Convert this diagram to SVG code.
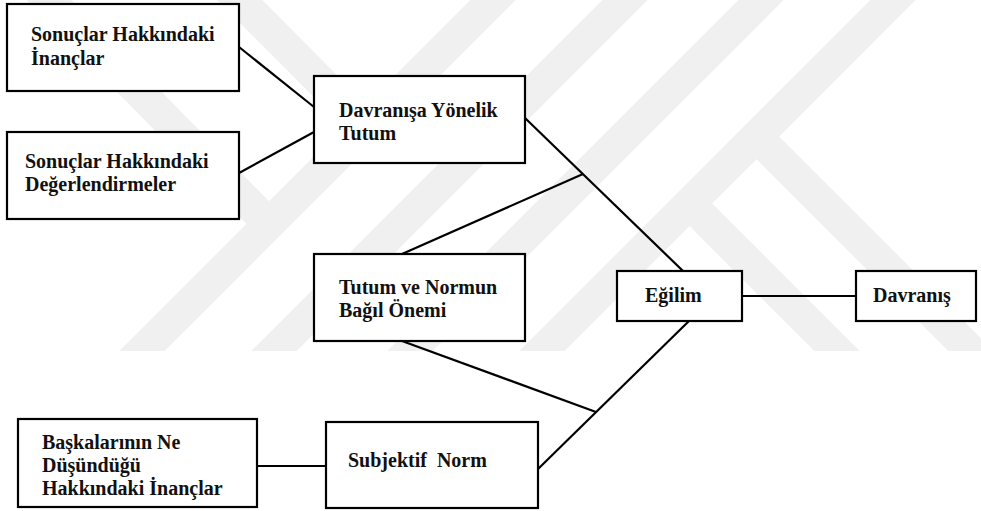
<svg xmlns="http://www.w3.org/2000/svg" width="981" height="511" viewBox="0 0 981 511">
<style>
.box{fill:#fff;stroke:#000;stroke-width:2.2}
.t{font-family:'Liberation Serif','DejaVu Serif',serif;font-weight:700;font-size:20px;fill:#111}
.ln{stroke:#000;stroke-width:2.2;fill:none}
.wm{stroke:#f0f0f0;stroke-width:32;fill:none}
</style>
<defs><clipPath id="wmc"><rect x="0" y="0" width="981" height="351"/></clipPath></defs>
<rect width="981" height="511" fill="#fff"/>
<g id="watermark" clip-path="url(#wmc)">
<line class="wm" x1="543" y1="-50" x2="93" y2="400"/>
<line class="wm" x1="675" y1="-50" x2="225" y2="400"/>
<line class="wm" x1="811" y1="-50" x2="361" y2="400"/>
<line class="wm" x1="943" y1="-50" x2="493" y2="400"/>
<line class="wm" x1="690" y1="204" x2="886" y2="400"/>
<line class="wm" x1="756" y1="136" x2="1020" y2="400"/>
<line class="wm" x1="190" y1="-50" x2="366" y2="127"/>
<line class="wm" x1="0" y1="-50" x2="269" y2="224"/>
</g>
<g id="connectors">
<line class="ln" x1="239" y1="47" x2="314" y2="107"/>
<line class="ln" x1="239" y1="173" x2="314" y2="132"/>
<line class="ln" x1="525" y1="118" x2="683" y2="271"/>
<line class="ln" x1="583" y1="174" x2="402" y2="254"/>
<line class="ln" x1="402" y1="341" x2="596" y2="412"/>
<line class="ln" x1="538" y1="469" x2="689" y2="321"/>
<line class="ln" x1="257" y1="466" x2="326" y2="466"/>
<line class="ln" x1="742" y1="296" x2="856" y2="296"/>
</g>
<g id="n1"><rect class="box" x="7" y="4" width="232" height="87"/>
<text class="t" x="31" y="41">Sonuçlar Hakkındaki</text><text class="t" x="31" y="65">İnançlar</text></g>
<g id="n2"><rect class="box" x="7" y="132" width="232" height="87"/>
<text class="t" x="25" y="168">Sonuçlar Hakkındaki</text><text class="t" x="25" y="191">Değerlendirmeler</text></g>
<g id="n3"><rect class="box" x="314" y="76" width="211" height="87"/>
<text class="t" x="339" y="117">Davranışa Yönelik</text><text class="t" x="339" y="140">Tutum</text></g>
<g id="n4"><rect class="box" x="314" y="254" width="211" height="87"/>
<text class="t" x="339" y="294">Tutum ve Normun</text><text class="t" x="339" y="317">Bağıl Önemi</text></g>
<g id="n5"><rect class="box" x="326" y="422" width="212" height="86"/>
<text class="t" x="348" y="467" xml:space="preserve">Subjektif  Norm</text></g>
<g id="n6"><rect class="box" x="18" y="419" width="239" height="88"/>
<text class="t" x="42" y="449">Başkalarının Ne</text><text class="t" x="42" y="472">Düşündüğü</text><text class="t" x="42" y="495">Hakkındaki İnançlar</text></g>
<g id="n7"><rect class="box" x="617" y="271" width="125" height="50"/>
<text class="t" x="645" y="302">Eğilim</text></g>
<g id="n8"><rect class="box" x="856" y="271" width="120" height="50"/>
<text class="t" x="873" y="302">Davranış</text></g>
</svg>
